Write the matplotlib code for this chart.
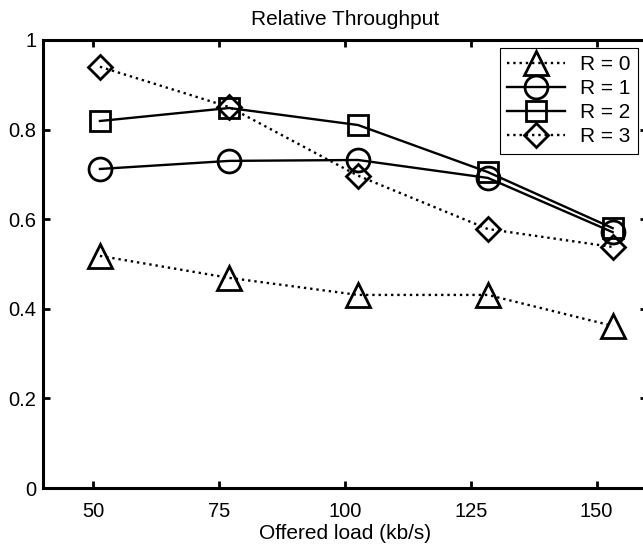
import matplotlib
matplotlib.use("Agg")
import matplotlib.pyplot as plt
from matplotlib.ticker import FuncFormatter

plt.rcParams["font.family"] = ["Liberation Sans", "DejaVu Sans"]

# offered load (kb/s) and relative throughput per R
LOAD = [51.3, 77.0, 102.6, 128.4, 153.2]
R0 = [0.518, 0.469, 0.431, 0.431, 0.362]
R1 = [0.712, 0.730, 0.732, 0.692, 0.571]
R2 = [0.819, 0.848, 0.810, 0.705, 0.580]
R3 = [0.940, 0.850, 0.697, 0.578, 0.538]

SERIES = [
    ("R = 0", R0, "^", ":"),
    ("R = 1", R1, "o", "-"),
    ("R = 2", R2, "s", "-"),
    ("R = 3", R3, "D", ":"),
]
MARKER_SIZE = {"^": 17, "o": 16.5, "s": 14, "D": 12}


def tick_fmt(v, _pos):
    return f"{v:g}"


def main() -> None:
    fig = plt.figure(figsize=(6.43, 5.46), dpi=100)
    ax = fig.add_axes([0.067, 0.106, 0.939, 0.821])

    for label, values, marker, style in SERIES:
        ax.plot(LOAD, values, linestyle=style, color="black", linewidth=1.7,
                marker=marker, markersize=MARKER_SIZE[marker],
                markerfacecolor="none", markeredgecolor="black",
                markeredgewidth=2.0, label=label)

    ax.set_xlim(40, 160)
    ax.set_ylim(0, 1)
    ax.set_xticks([50, 75, 100, 125, 150])
    ax.set_yticks([0, 0.2, 0.4, 0.6, 0.8, 1.0])
    ax.yaxis.set_major_formatter(FuncFormatter(tick_fmt))
    ax.tick_params(direction="in", length=5, width=2, top=True, right=True,
                   labelsize=14.5)
    ax.tick_params(axis="x", pad=10)
    ax.tick_params(axis="y", pad=5)
    for spine in ax.spines.values():
        spine.set_linewidth(2.2)

    ax.set_title("Relative Throughput", fontsize=15, pad=11)
    ax.set_xlabel("Offered load (kb/s)", fontsize=15, labelpad=2)

    leg = ax.legend(loc="upper right", bbox_to_anchor=(0.985, 0.982),
                    fontsize=15, handlelength=2.8, handletextpad=0.7,
                    labelspacing=0.24, borderpad=0.35, borderaxespad=0,
                    fancybox=False, framealpha=1, edgecolor="black")
    leg.get_frame().set_linewidth(0.8)

    fig.savefig("out.png", dpi=100, facecolor="white")


if __name__ == "__main__":
    main()
